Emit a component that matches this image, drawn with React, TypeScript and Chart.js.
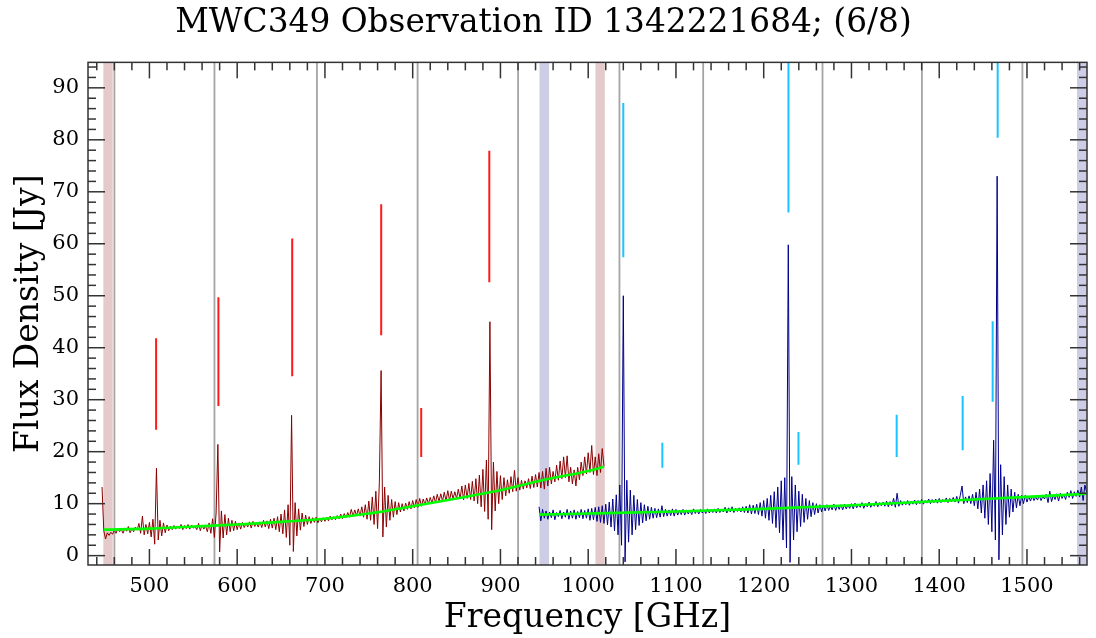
import React, { useEffect, useRef } from "react";
import { Chart, registerables } from "chart.js";

Chart.register(...registerables);

const TITLE = "MWC349 Observation ID 1342221684; (6/8)";
const X_LABEL = "Frequency [GHz]";
const Y_LABEL = "Flux Density [Jy]";

const xTickValues = [500, 600, 700, 800, 900, 1000, 1100, 1200, 1300, 1400, 1500];
const xTickLabels = ["500", "600", "700", "800", "900", "1000", "1100", "1200", "1300", "1400", "1500"];
const yTickValues = [0, 10, 20, 30, 40, 50, 60, 70, 80, 90];
const yTickLabels = ["0", "10", "20", "30", "40", "50", "60", "70", "80", "90"];
const X_MIN = 430;
const X_MAX = 1568.4;
const Y_MIN = -1.8;
const Y_MAX = 94.9;

// SLW-like (red) spectrum, sampled every 2 GHz from 446 GHz
const redStartGHz = 446;
const redStepGHz = 2;
const redFlux = [
  13.2, 4.8, 3.2, 4.4, 3.9, 4.5, 4.1, 4.9, 4.3, 5.3,
  4.6, 5.0, 4.3, 5.3, 4.7, 5.6, 4.4, 5.2, 4.6, 5.5,
  4.9, 6.2, 4.3, 7.6, 4.0, 6.0, 4.2, 6.4, 3.6, 7.0,
  2.2, 16.8, 3.0, 6.8, 3.8, 6.3, 4.4, 5.9, 4.8, 5.7,
  5.0, 5.8, 5.1, 5.7, 5.2, 6.0, 5.0, 5.8, 5.2, 6.0,
  5.1, 5.9, 5.3, 5.6, 5.0, 6.2, 4.8, 5.9, 5.1, 5.7,
  4.6, 6.3, 4.3, 7.1, 3.5, 8.2, 21.4, 0.7, 8.6, 3.4,
  7.9, 4.0, 7.2, 4.6, 6.8, 4.8, 6.6, 5.0, 6.3, 5.1,
  6.4, 5.4, 6.2, 5.5, 6.5, 5.3, 6.6, 5.6, 6.3, 5.5,
  6.5, 5.4, 6.8, 5.5, 6.7, 5.2, 7.0, 5.3, 7.2, 5.0,
  7.5, 4.6, 8.0, 4.2, 8.8, 3.5, 9.8, 2.0, 27.0, 0.8,
  10.2, 3.8, 9.0, 4.9, 8.2, 5.6, 7.8, 6.0, 7.5, 6.2,
  7.3, 6.4, 7.4, 6.3, 7.2, 6.5, 7.3, 6.6, 7.4, 6.7,
  7.6, 6.9, 7.5, 6.9, 7.7, 7.1, 8.0, 7.1, 8.1, 7.3,
  8.3, 7.4, 8.9, 7.6, 8.8, 7.7, 9.0, 7.6, 9.4, 7.4,
  9.8, 7.0, 10.5, 6.8, 11.3, 6.0, 12.4, 5.2, 14.0, 35.6,
  3.6, 13.2, 5.5, 11.6, 6.8, 10.8, 7.4, 10.4, 7.9, 10.2,
  8.4, 10.0, 8.6, 10.1, 8.9, 10.4, 9.0, 10.6, 9.2, 10.8,
  9.3, 11.0, 9.5, 10.9, 9.8, 11.1, 10.0, 11.2, 10.1, 11.5,
  10.2, 11.8, 10.4, 11.9, 10.5, 12.2, 10.5, 12.5, 10.6, 12.4,
  10.9, 12.3, 11.0, 12.8, 10.9, 13.4, 10.7, 13.6, 11.0, 13.9,
  10.8, 14.3, 10.5, 14.8, 10.0, 15.5, 9.4, 16.6, 8.5, 18.4,
  7.0, 45.0, 5.0, 18.0, 8.6, 16.2, 10.0, 15.4, 10.8, 15.0,
  11.5, 14.6, 12.0, 15.2, 12.3, 16.4, 12.4, 15.0, 12.6, 14.5,
  12.8, 14.4, 13.0, 14.8, 12.9, 15.3, 13.1, 15.6, 13.2, 16.0,
  13.0, 16.2, 12.8, 16.8, 13.4, 17.0, 13.8, 16.2, 14.2, 17.4,
  14.5, 18.2, 14.8, 19.0, 15.0, 19.2, 14.2, 17.0, 13.8, 16.5,
  13.4, 17.0, 14.6, 18.0, 15.4, 19.0, 15.7, 19.8, 16.0, 21.2,
  15.6, 19.0, 15.4, 19.6, 16.0, 20.6, 17.2,
];

// SSW-like (blue) spectrum, sampled every 2 GHz from 944 GHz
const blueStartGHz = 944;
const blueStepGHz = 2;
const blueFlux = [
  9.4, 6.7, 8.9, 7.2, 8.6, 7.0, 8.4, 7.3, 8.8, 6.9,
  8.3, 7.5, 8.7, 7.1, 8.4, 7.4, 8.9, 7.0, 8.6, 7.2,
  8.8, 7.0, 8.5, 7.3, 8.9, 7.1, 8.7, 7.2, 9.0, 6.8,
  9.1, 6.9, 9.3, 6.6, 9.4, 6.4, 9.6, 6.2, 9.9, 5.9,
  10.3, 5.5, 10.9, 4.8, 11.7, 4.0, 13.6, 2.0, 50.0, -1.2,
  14.5, 2.6, 12.6, 4.0, 11.6, 5.0, 10.8, 5.8, 10.2, 6.3,
  9.8, 6.7, 9.5, 7.0, 9.3, 7.2, 9.1, 7.3, 9.0, 7.4,
  9.6, 7.5, 8.9, 7.6, 8.8, 7.7, 9.0, 7.6, 8.9, 7.8,
  8.7, 7.9, 8.9, 7.8, 8.8, 8.0, 8.7, 7.9, 9.0, 8.1,
  8.8, 8.0, 8.9, 8.2, 8.8, 8.1, 9.0, 8.2, 8.9, 8.3,
  9.0, 8.2, 9.1, 8.3, 8.9, 8.4, 9.3, 8.2, 9.2, 8.4,
  9.4, 8.3, 9.1, 8.5, 9.2, 8.4, 9.4, 8.3, 9.5, 8.2,
  9.8, 8.0, 9.7, 8.1, 9.9, 7.9, 10.2, 7.6, 10.6, 7.2,
  11.0, 6.8, 11.6, 6.2, 12.3, 5.4, 13.2, 4.4, 14.4, 3.0,
  15.0, 1.5, 59.8, -1.3, 15.2, 3.0, 13.6, 4.6, 12.4, 5.6,
  11.8, 6.4, 11.0, 7.0, 10.6, 7.5, 10.2, 7.9, 10.0, 8.2,
  9.8, 8.4, 9.7, 8.6, 9.8, 8.7, 9.6, 8.8, 9.9, 8.7,
  9.7, 8.9, 9.8, 8.8, 9.9, 9.0, 9.7, 9.1, 10.0, 9.0,
  10.1, 9.2, 9.9, 9.3, 10.2, 9.1, 10.0, 9.4, 10.3, 9.3,
  10.1, 9.5, 10.4, 9.4, 10.2, 9.6, 10.3, 9.5, 10.5, 9.4,
  10.4, 9.6, 11.0, 9.3, 12.0, 9.5, 10.6, 9.7, 10.4, 9.8,
  10.6, 9.7, 10.5, 9.9, 10.7, 9.8, 10.6, 10.0, 10.8, 9.9,
  10.6, 10.1, 10.9, 10.0, 10.8, 10.2, 10.9, 10.1, 11.0, 10.2,
  10.8, 10.3, 11.1, 10.2, 11.0, 10.4, 11.2, 10.3, 11.4, 10.1,
  11.6, 13.4, 10.0, 11.3, 10.2, 11.5, 10.0, 11.8, 9.6, 12.2,
  9.0, 12.8, 8.2, 13.6, 7.2, 14.4, 6.0, 15.8, 4.6, 22.2,
  3.0, 73.0, -0.8, 17.5, 4.0, 15.2, 6.0, 13.6, 7.4, 12.8,
  8.4, 12.2, 9.2, 11.8, 9.6, 11.6, 10.0, 11.6, 10.3, 11.4,
  10.5, 11.5, 10.6, 11.3, 10.7, 11.6, 10.6, 11.4, 10.9, 11.8,
  10.2, 12.4, 10.4, 11.6, 10.8, 11.9, 10.5, 12.0, 11.0, 11.8,
  10.8, 12.2, 11.2, 12.5, 11.0, 12.3, 11.4, 12.6, 11.3, 13.2,
  10.6, 13.6, 12.2,
];

// Continuum fits (green)
const redFitGHz = [448, 500, 550, 600, 650, 700, 750, 800, 850, 900, 950, 1000, 1018];
const redFitFlux = [5.0, 5.2, 5.6, 6.0, 6.5, 7.1, 8.1, 9.5, 11.0, 12.6, 14.6, 16.3, 17.1];
const blueFitGHz = [944, 1000, 1100, 1200, 1300, 1400, 1500, 1568];
const blueFitFlux = [7.9, 8.1, 8.5, 9.0, 9.7, 10.5, 11.3, 11.9];

// Line identification markers
const redMarkerGHz = [507.6, 578.6, 662.7, 764.1, 809.7, 887.3];
const redMarkerLow = [24.2, 28.8, 34.5, 42.4, 19.0, 52.6];
const redMarkerHigh = [41.8, 49.7, 61.0, 67.6, 28.4, 77.9];
const cyanMarkerGHz = [1040.0, 1084.5, 1228.2, 1239.6, 1351.5, 1426.7, 1460.9, 1466.6];
const cyanMarkerLow = [57.4, 16.9, 66.0, 17.5, 19.0, 20.3, 29.6, 80.4];
const cyanMarkerHigh = [87.1, 21.7, 96.0, 23.8, 27.1, 30.7, 45.1, 96.0];

// Grey vertical lines and shaded bands
const greyLineGHz = [460.1, 574.1, 690.9, 805.6, 920.1, 1035.6, 1131.0, 1267.0, 1380.3, 1494.8];
const pinkBandStart = [447.5, 1008.3];
const pinkBandEnd = [458.2, 1018.9];
const blueBandStart = [944.5, 1557.0];
const blueBandEnd = [955.4, 1570.0];

const FONT = "'DejaVu Serif', serif";
const AXIS_COLOR = "#333333";

function markerSegments(freqs: number[], lows: number[], highs: number[]) {
  const pts: { x: number; y: number | null }[] = [];
  freqs.forEach((f, i) => {
    pts.push({ x: f, y: lows[i] }, { x: f, y: highs[i] }, { x: f, y: null });
  });
  return pts;
}

const bandsPlugin = {
  id: "bandsAndLines",
  beforeDatasetsDraw(chart: any) {
    const { ctx, chartArea: a, scales } = chart;
    const xs = scales.x;
    ctx.save();
    ctx.beginPath();
    ctx.rect(a.left, a.top, a.right - a.left, a.bottom - a.top);
    ctx.clip();
    const drawBand = (s: number, e: number, color: string) => {
      const p1 = xs.getPixelForValue(s);
      const p2 = xs.getPixelForValue(e);
      ctx.fillStyle = color;
      ctx.fillRect(p1, a.top, p2 - p1, a.bottom - a.top);
    };
    pinkBandStart.forEach((s, i) => drawBand(s, pinkBandEnd[i], "rgba(178,102,102,0.35)"));
    blueBandStart.forEach((s, i) => drawBand(s, blueBandEnd[i], "rgba(102,102,178,0.33)"));
    ctx.strokeStyle = "rgb(165,165,165)";
    ctx.lineWidth = 1.8;
    greyLineGHz.forEach((f) => {
      const p = xs.getPixelForValue(f);
      ctx.beginPath();
      ctx.moveTo(p, a.top);
      ctx.lineTo(p, a.bottom);
      ctx.stroke();
    });
    ctx.restore();
  },
};

const framePlugin = {
  id: "frameTicks",
  afterDatasetsDraw(chart: any) {
    const { ctx, chartArea: a, scales } = chart;
    const xs = scales.x;
    const ys = scales.y;
    ctx.save();
    ctx.strokeStyle = AXIS_COLOR;
    ctx.lineWidth = 1.5;
    const seg = (x1: number, y1: number, x2: number, y2: number) => {
      ctx.beginPath();
      ctx.moveTo(x1, y1);
      ctx.lineTo(x2, y2);
      ctx.stroke();
    };
    for (let v = Math.ceil(X_MIN / 20) * 20; v <= X_MAX; v += 20) {
      const p = xs.getPixelForValue(v);
      const len = v % 100 === 0 ? 16 : 8;
      seg(p, a.bottom, p, a.bottom - len);
      seg(p, a.top, p, a.top + len);
    }
    for (let v = Math.ceil(Y_MIN / 2) * 2; v <= Y_MAX; v += 2) {
      const p = ys.getPixelForValue(v);
      const len = v % 10 === 0 ? 17 : 8;
      seg(a.left, p, a.left + len, p);
      seg(a.right, p, a.right - len, p);
    }
    ctx.strokeRect(a.left, a.top, a.right - a.left, a.bottom - a.top);
    ctx.restore();
  },
};

export default function App() {
  const ref = useRef<HTMLCanvasElement>(null);

  useEffect(() => {
    if (!ref.current) return;
    const redPoints = redFlux.map((v, i) => ({ x: redStartGHz + i * redStepGHz, y: v }));
    const bluePoints = blueFlux.map((v, i) => ({ x: blueStartGHz + i * blueStepGHz, y: v }));
    const redFit = redFitGHz.map((f, i) => ({ x: f, y: redFitFlux[i] }));
    const blueFit = blueFitGHz.map((f, i) => ({ x: f, y: blueFitFlux[i] }));

    const chart = new Chart(ref.current, {
      type: "line",
      data: {
        datasets: [
          {
            label: "fit red",
            data: redFit,
            borderColor: "#00ff00",
            borderWidth: 2.6,
            pointRadius: 0,
            tension: 0.4,
            cubicInterpolationMode: "monotone",
            order: 0,
          },
          {
            label: "fit blue",
            data: blueFit,
            borderColor: "#00ff00",
            borderWidth: 2.6,
            pointRadius: 0,
            tension: 0.4,
            cubicInterpolationMode: "monotone",
            order: 0,
          },
          {
            label: "red markers",
            data: markerSegments(redMarkerGHz, redMarkerLow, redMarkerHigh),
            borderColor: "#ff1a1a",
            borderWidth: 2,
            pointRadius: 0,
            spanGaps: false,
            order: 1,
          },
          {
            label: "cyan markers",
            data: markerSegments(cyanMarkerGHz, cyanMarkerLow, cyanMarkerHigh),
            borderColor: "#19c3ff",
            borderWidth: 2,
            pointRadius: 0,
            spanGaps: false,
            order: 1,
          },
          {
            label: "SLW",
            data: redPoints,
            borderColor: "#8b0000",
            borderWidth: 1,
            pointRadius: 0,
            tension: 0,
            order: 2,
          },
          {
            label: "SSW",
            data: bluePoints,
            borderColor: "#00008b",
            borderWidth: 1,
            pointRadius: 0,
            tension: 0,
            order: 2,
          },
        ] as any,
      },
      options: {
        animation: false,
        responsive: false,
        devicePixelRatio: 1,
        layout: { padding: { left: 0, right: 9, top: 0, bottom: 0 } },
        plugins: {
          legend: { display: false },
          tooltip: { enabled: false },
          title: {
            display: true,
            text: TITLE,
            color: "#000",
            font: { family: FONT, size: 32.8, weight: "normal", lineHeight: 1.2 },
            padding: { top: 4, bottom: 19 },
          },
        },
        scales: {
          x: {
            type: "linear",
            min: X_MIN,
            max: X_MAX,
            grid: { display: false, drawTicks: false },
            border: { display: false },
            afterBuildTicks: (axis: any) => {
              axis.ticks = xTickValues.map((v) => ({ value: v }));
            },
            afterFit: (axis: any) => {
              axis.height = 73;
            },
            ticks: {
              autoSkip: false,
              maxRotation: 0,
              padding: 9,
              color: "#000",
              font: { family: FONT, size: 21 },
              callback: (_v: any, i: number) => xTickLabels[i],
            },
            title: {
              display: true,
              text: X_LABEL,
              color: "#000",
              font: { family: FONT, size: 33 },
              padding: { top: 0, bottom: 0 },
            },
          },
          y: {
            type: "linear",
            min: Y_MIN,
            max: Y_MAX,
            grid: { display: false, drawTicks: false },
            border: { display: false },
            afterBuildTicks: (axis: any) => {
              axis.ticks = yTickValues.map((v) => ({ value: v }));
            },
            afterFit: (axis: any) => {
              axis.width = 88;
            },
            ticks: {
              autoSkip: false,
              padding: 9,
              color: "#000",
              font: { family: FONT, size: 21 },
              callback: (_v: any, i: number) => yTickLabels[i],
            },
            title: {
              display: true,
              text: Y_LABEL,
              color: "#000",
              font: { family: FONT, size: 33 },
              padding: { top: 10, bottom: 0 },
            },
          },
        },
      } as any,
      plugins: [bandsPlugin, framePlugin],
    });
    return () => chart.destroy();
  }, []);

  return (
    <div style={{ position: "fixed", left: 0, top: 0, width: 1096, height: 638, background: "#fff" }}>
      <canvas ref={ref} width={1096} height={638} style={{ display: "block", width: 1096, height: 638 }} />
    </div>
  );
}
